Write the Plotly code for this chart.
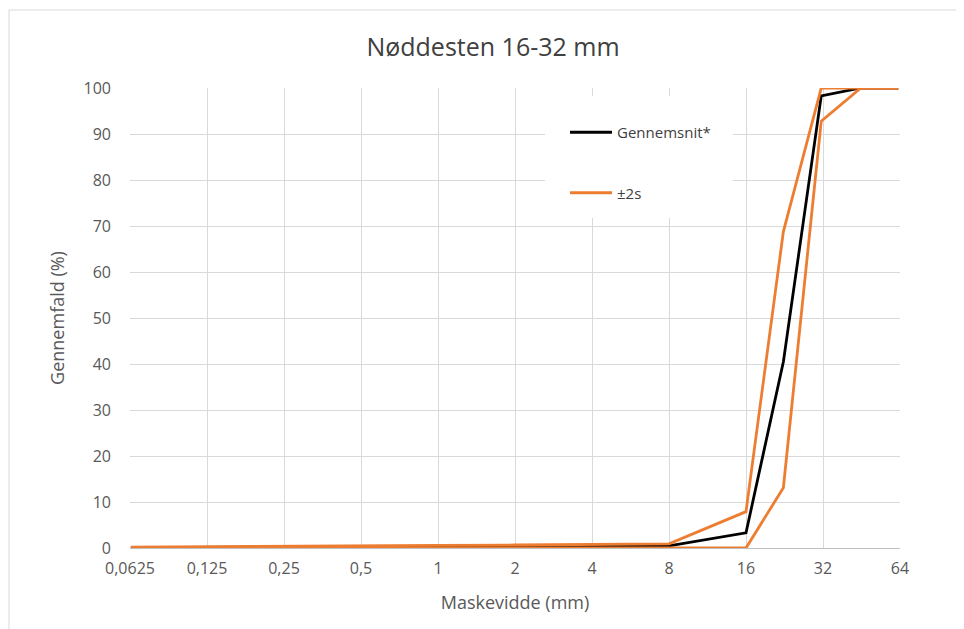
import math
import plotly.graph_objects as go

sieves = [0.063, 0.125, 0.25, 0.5, 1, 2, 4, 8, 16, 22.4, 31.5, 45, 63]
mean_pass = [0.1, 0.12, 0.18, 0.22, 0.28, 0.32, 0.38, 0.45, 3.3, 40.5, 98.3, 100, 100]
upper_pass = [0.2, 0.25, 0.35, 0.45, 0.55, 0.65, 0.75, 0.9, 7.9, 68.8, 100, 100, 100]
lower_pass = [0, 0, 0, 0, 0, 0, 0, 0, 0, 13.1, 92.8, 100, 100]

tick_vals = [0.0625, 0.125, 0.25, 0.5, 1, 2, 4, 8, 16, 32, 64]
tick_text = ["0,0625", "0,125", "0,25", "0,5", "1", "2", "4", "8", "16", "32", "64"]

title_text = "Nøddesten 16-32 mm"
x_title = "Maskevidde (mm)"
y_title = "Gennemfald (%)"

BLACK = "#000000"
ORANGE = "#ED7D31"
GRID = "#d9d9d9"
TXT = "#595959"
FONT = "Open Sans"

# page body has an 8px margin, so the figure is laid out 8px smaller
W, H = 956, 621
OFF = 8
L, R, T, B = 130 - OFF, W + OFF - 900, 88 - OFF, H + OFF - 548
PW, PH = 900 - 130, 548 - 88


def px(xs):
    return (xs - 130) / PW


def py(ys):
    return (548 - ys) / PH


fig = go.Figure()
fig.add_trace(go.Scatter(x=sieves, y=mean_pass, mode="lines", name="Gennemsnit*",
                         line=dict(color=BLACK, width=2.8), legendgroup="a"))
fig.add_trace(go.Scatter(x=sieves, y=upper_pass, mode="lines", name="±2s",
                         line=dict(color=ORANGE, width=2.8), legendgroup="b"))
fig.add_trace(go.Scatter(x=sieves, y=lower_pass, mode="lines", name="±2s",
                         line=dict(color=ORANGE, width=2.8), legendgroup="b",
                         showlegend=False))

fig.update_layout(
    width=W, height=H,
    margin=dict(l=L, r=R, t=T, b=B, autoexpand=False),
    paper_bgcolor="white", plot_bgcolor="white",
    font=dict(family=FONT, color=TXT, size=16),
    title=dict(text=title_text, x=px(493), xref="paper", xanchor="center",
               y=1 - (47 - OFF) / H, yanchor="middle",
               font=dict(family=FONT, size=25, color="#404040")),
    showlegend=True,
    legend=dict(x=px(565), y=py(116), xanchor="left", yanchor="top",
                bgcolor="rgba(0,0,0,0)", borderwidth=0, tracegroupgap=38,
                font=dict(family=FONT, size=15, color="#404040"),
                itemwidth=42),
    xaxis=dict(type="log", range=[math.log10(0.0625), math.log10(64)],
               tickmode="array", tickvals=tick_vals, ticktext=tick_text,
               showgrid=True, gridcolor=GRID, gridwidth=1,
               showline=True, linecolor="#bfbfbf", linewidth=1,
               zeroline=False, ticks="", ticklen=0, ticklabelstandoff=6,
               tickfont=dict(family=FONT, size=16, color=TXT),
               title=dict(text=x_title, standoff=18,
                          font=dict(family=FONT, size=18, color=TXT))),
    yaxis=dict(range=[0, 100], dtick=10, tick0=0,
               showgrid=True, gridcolor=GRID, gridwidth=1,
               showline=False, zeroline=False, ticks="", ticklabelstandoff=18,
               tickfont=dict(family=FONT, size=16, color=TXT),
               title=dict(text=y_title, standoff=14,
                          font=dict(family=FONT, size=18, color=TXT))),
    shapes=[
        dict(type="rect", xref="paper", yref="paper",
             x0=px(9), x1=1.2, y0=-0.3, y1=py(10),
             line=dict(color=GRID, width=1), fillcolor="rgba(0,0,0,0)",
             layer="below"),
        dict(type="rect", xref="paper", yref="paper",
             x0=px(545), x1=px(733), y0=py(218), y1=py(96),
             line=dict(width=0), fillcolor="white", layer="above"),
    ],
)

fig.write_html("out.html")
